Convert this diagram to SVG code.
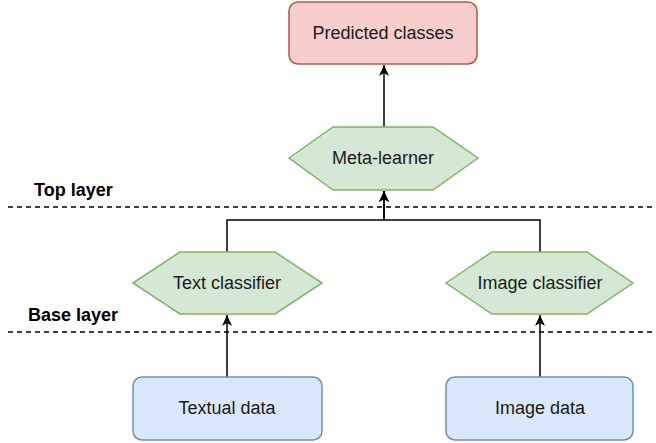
<svg xmlns="http://www.w3.org/2000/svg" width="656" height="443" viewBox="0 0 656 443">
<style>
  .lbl{font-family:"Liberation Sans",Arial,sans-serif;font-size:18px;fill:#1a1a1a;text-anchor:middle;dominant-baseline:central}
  .layer{font-family:"Liberation Sans",Arial,sans-serif;font-size:18px;font-weight:bold;fill:#000;dominant-baseline:central}
  .red{fill:#f8cecc;stroke:#b85450;stroke-width:1.5}
  .green{fill:#d5e8d4;stroke:#82b366;stroke-width:1.5}
  .blue{fill:#dae8fc;stroke:#6c8ebf;stroke-width:1.5}
  .edge{fill:none;stroke:#000;stroke-width:1.5}
  .dash{fill:none;stroke:#000;stroke-width:1.3;stroke-dasharray:5,4}
</style>
<defs>
  <marker id="arr" markerUnits="userSpaceOnUse" markerWidth="12" markerHeight="10" refX="11" refY="5" orient="auto">
    <path d="M0,0 L11,5 L0,10 L3,5 Z" fill="#000"/>
  </marker>
</defs>
<rect width="656" height="443" fill="#fff"/>
<g id="layers">
  <line class="dash" x1="8" y1="207" x2="652" y2="207"/>
  <line class="dash" x1="8" y1="332" x2="652" y2="332"/>
  <text class="layer" x="34" y="190">Top layer</text>
  <text class="layer" x="28" y="315">Base layer</text>
</g>
<g id="connectors">
  <path class="edge" d="M384,127 V65" marker-end="url(#arr)"/>
  <path class="edge" d="M227,252 V220 H384 V191" marker-end="url(#arr)"/>
  <path class="edge" d="M540,252 V220 H384 V191" marker-end="url(#arr)"/>
  <path class="edge" d="M227,377 V315" marker-end="url(#arr)"/>
  <path class="edge" d="M540,377 V315" marker-end="url(#arr)"/>
</g>
<g id="predicted">
  <rect class="red" x="289" y="2" width="188" height="62" rx="9"/>
  <text class="lbl" x="383" y="33">Predicted classes</text>
</g>
<g id="meta">
  <polygon class="green" points="289,158 333,127 433,127 478,158 433,190 333,190"/>
  <text class="lbl" x="383" y="158">Meta-learner</text>
</g>
<g id="textclf">
  <polygon class="green" points="133,283 180,252 275,252 322,283 275,314 180,314"/>
  <text class="lbl" x="227" y="283">Text classifier</text>
</g>
<g id="imgclf">
  <polygon class="green" points="446,283 492,252 587,252 633,283 587,314 492,314"/>
  <text class="lbl" x="540" y="283">Image classifier</text>
</g>
<g id="textual">
  <rect class="blue" x="133" y="377" width="189" height="63" rx="9"/>
  <text class="lbl" x="227" y="408">Textual data</text>
</g>
<g id="imgdata">
  <rect class="blue" x="446" y="377" width="187" height="63" rx="9"/>
  <text class="lbl" x="540" y="408">Image data</text>
</g>
</svg>
